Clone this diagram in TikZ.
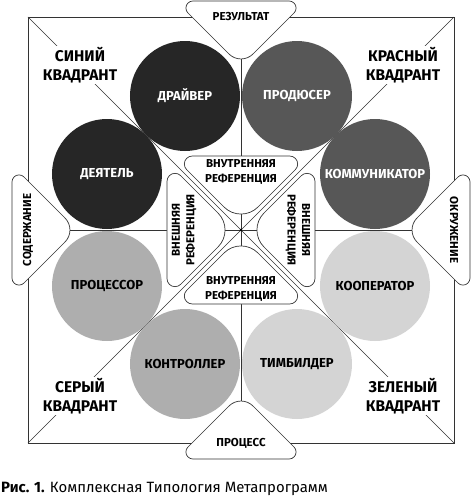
\documentclass[tikz,border=0pt]{standalone}
\usepackage{fontspec}
\setmainfont{Fira Sans}
\definecolor{cA}{HTML}{262626}
\definecolor{cB}{HTML}{575757}
\definecolor{cC}{HTML}{AEAEAE}
\definecolor{cD}{HTML}{D4D4D4}
\definecolor{ln}{HTML}{333333}
% #1 rotation, #2 base distance, #3 sharp apex distance, #4 corner radius, #5 apex radius
\newcommand\rtri[5]{%
\begin{scope}[rotate=#1]
\draw[tabline] (0,#2) -- ({-(#2-#3)+2.4142*#4},#2)
  arc[start angle=90,end angle=225,radius=#4pt]
  -- ({-#5*0.7071},{#3+#5*0.7071})
  arc[start angle=225,end angle=315,radius=#5pt]
  -- ({(#2-#3)-1.7071*#4},{#2-1.7071*#4})
  arc[start angle=-45,end angle=90,radius=#4pt] -- cycle;
\end{scope}}
\begin{document}
\begin{tikzpicture}[x=1pt,y=1pt,
  frame/.style={draw=ln,line width=0.7pt},
  tabline/.style={draw=ln,fill=white,line width=0.7pt},
  circ/.style={circle,minimum size=110pt,inner sep=0pt,font=\fontsize{13}{15}\selectfont\bfseries},
  quad/.style={fill=white,inner sep=1pt,align=center,font=\fontsize{15.5}{18.5}\selectfont\bfseries},
  tablabel/.style={inner sep=0pt,font=\fontsize{11.5}{13}\selectfont\bfseries},
  innerlabel/.style={inner sep=0pt,align=center,font=\fontsize{11.5}{14.5}\selectfont\bfseries}]
\useasboundingbox (-241,-266) rectangle (231,230);
% frame and lines
\coordinate (tl) at (-213,213);
\coordinate (tr) at (213,213);
\coordinate (bl) at (-213,-213);
\coordinate (br) at (213,-213);
\coordinate (tm) at (0,213);
\coordinate (bm) at (0,-213);
\coordinate (lm) at (-213,0);
\coordinate (rm) at (213,0);
\draw[frame] (tl) -- (tr) -- (br) -- (bl) -- cycle;
\draw[frame] (tl) -- (br);
\draw[frame] (tr) -- (bl);
\draw[frame] (tm) -- (bm);
\draw[frame] (lm) -- (rm);
% circles
\node[circ,fill=cA,text=white] (drv) at (-56,134) {ДРАЙВЕР};
\node[circ,fill=cA,text=white] (dey) at (-134,56) {ДЕЯТЕЛЬ};
\node[circ,fill=cB,text=white] (prod) at (56,134) {ПРОДЮСЕР};
\node[circ,fill=cB,text=white] (komm) at (134,56) {КОММУНИКАТОР};
\node[circ,fill=cC,text=black] (proc) at (-134,-56) {ПРОЦЕССОР};
\node[circ,fill=cC,text=black] (kontr) at (-56,-134) {КОНТРОЛЛЕР};
\node[circ,fill=cD,text=black] (koop) at (134,-56) {КООПЕРАТОР};
\node[circ,fill=cD,text=black] (timb) at (56,-134) {ТИМБИЛДЕР};
% inner shapes
\rtri{0}{74}{6}{8}{24}
\rtri{90}{74}{6}{8}{24}
\rtri{180}{74}{6}{8}{24}
\rtri{270}{74}{6}{8}{24}
\node[innerlabel] (inT) at (0,58) {ВНУТРЕННЯЯ\\РЕФЕРЕНЦИЯ};
\node[innerlabel] (inB) at (0,-59) {ВНУТРЕННЯЯ\\РЕФЕРЕНЦИЯ};
\node[innerlabel,rotate=90] (inL) at (-57,0) {ВНЕШНЯЯ\\РЕФЕРЕНЦИЯ};
\node[innerlabel,rotate=-90] (inR) at (57,0) {ВНЕШНЯЯ\\РЕФЕРЕНЦИЯ};
% outer tabs
\rtri{0}{229}{164}{7}{17}
\rtri{90}{229}{164}{7}{17}
\rtri{180}{229}{164}{7}{17}
\rtri{270}{229}{164}{7}{17}
\node[tablabel] (res) at (0,213) {РЕЗУЛЬТАТ};
\node[tablabel] (pro) at (0,-213) {ПРОЦЕСС};
\node[tablabel,rotate=90] (sod) at (-213,0) {СОДЕРЖАНИЕ};
\node[tablabel,rotate=-90] (okr) at (213,0) {ОКРУЖЕНИЕ};
% quadrant labels
\node[quad] (qB) at (-161,165) {СИНИЙ\\КВАДРАНТ};
\node[quad] (qR) at (162,165) {КРАСНЫЙ\\КВАДРАНТ};
\node[quad] (qS) at (-161,-166) {СЕРЫЙ\\КВАДРАНТ};
\node[quad] (qZ) at (162,-166) {ЗЕЛЕНЫЙ\\КВАДРАНТ};
% center dot
\fill[black] (0,0) circle[radius=1.3pt];
% caption
\node[anchor=base west,inner sep=0pt,font=\fontsize{14.9}{17}\selectfont] (cap) at (-240,-262) {\textbf{Рис. 1.} Комплексная Типология Метапрограмм};
\end{tikzpicture}
\end{document}
